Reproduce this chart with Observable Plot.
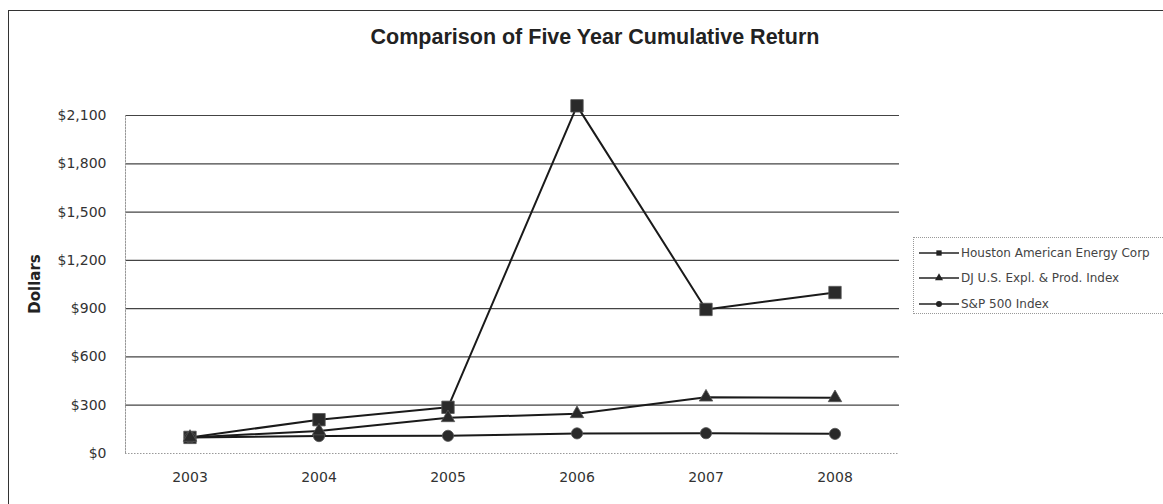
<!DOCTYPE html>
<html>
<head>
<meta charset="utf-8">
<script src="https://cdn.jsdelivr.net/npm/d3@7"></script>
<script src="https://cdn.jsdelivr.net/npm/@observablehq/plot@0.6"></script>
<style>
  body { margin: 0; background: #fff; font-family: "Liberation Sans", Arial, sans-serif; }
  #wrap { position: relative; width: 1163px; height: 504px; overflow: hidden; background: #fff; }
  #frame { position: absolute; left: 8px; top: 10px; width: 1170px; height: 510px; border: 1.5px solid #333; box-sizing: border-box; }
  #title { position: absolute; left: 0; width: 1190px; top: 25px; text-align: center; font-weight: bold; font-size: 21.5px; color: #222; }
  #ylabel { position: absolute; left: 35px; top: 284px; transform: translate(-50%, -50%) rotate(-90deg); font-family: "DejaVu Sans", sans-serif; font-weight: bold; font-size: 15px; color: #222; white-space: nowrap; }
  #legend { position: absolute; left: 913px; top: 237px; width: 260px; height: 77px; border: 1px dotted #999; box-sizing: border-box; }
  .item { position: absolute; left: 5px; height: 20px; display: flex; align-items: center; font-family: "DejaVu Sans", sans-serif; font-size: 12px; color: #444; white-space: nowrap; }
  .item svg { margin-right: 2px; }
  #chart { position: absolute; left: 0; top: 0; }
</style>
</head>
<body>
<div id="wrap">
  <div id="chart"></div>
  <div id="frame"></div>
  <div id="title">Comparison of Five Year Cumulative Return</div>
  <div id="ylabel">Dollars</div>
  <div id="legend"></div>
</div>
<script>
const years = ["2003", "2004", "2005", "2006", "2007", "2008"];
const seriesNames = ["Houston American Energy Corp", "DJ U.S. Expl. & Prod. Index", "S&P 500 Index"];
const houston = [100, 210, 287, 2160, 895, 1000];
const djExpProd = [100, 140, 222, 247, 350, 346];
const sp500 = [100, 108, 110, 125, 126, 122];
const yTicks = [0, 300, 600, 900, 1200, 1500, 1800, 2100];
const symbols = ["square", "triangle", "circle"];
const symbolR = [7, 5, 5.6];

const allValues = [houston, djExpProd, sp500];
const data = [];
seriesNames.forEach((s, i) => years.forEach((y, j) => data.push({series: s, year: y, value: allValues[i][j], sym: symbols[i], r: symbolR[i]})));

const fmt = d => "$" + d3.format(",")(d);

const chart = Plot.plot({
  width: 1163,
  height: 504,
  marginTop: 115,
  marginBottom: 51,
  marginLeft: 125,
  marginRight: 264,
  style: {fontFamily: "DejaVu Sans, sans-serif", fontSize: "14px", color: "#333", background: "transparent"},
  x: {type: "band", domain: years, padding: 0},
  y: {domain: [0, 2100]},
  marks: [
    Plot.ruleY(yTicks.filter(d => d > 0), {stroke: "#444", strokeWidth: 1.2}),
    Plot.ruleY([0], {stroke: "#999", strokeDasharray: "1.5,1.5"}),
    Plot.frame({anchor: "left", stroke: "#999", strokeDasharray: "1.5,1.5"}),
    Plot.axisY(yTicks, {tickFormat: fmt, tickSize: 0, tickPadding: 19, fontSize: 14, fill: "#333", label: null}),
    Plot.axisX({tickSize: 0, tickPadding: 19, fontSize: 14, fill: "#333", label: null}),
    Plot.line(data, {x: "year", y: "value", z: "series", stroke: "#1a1a1a", strokeWidth: 2}),
    Plot.dot(data, {x: "year", y: "value", symbol: "sym", r: "r", fill: "#2a2a2a", stroke: "#555", strokeWidth: 0.8})
  ],
  symbol: {type: "identity"},
  r: {type: "identity"}
});
document.getElementById("chart").appendChild(chart);

// legend
const legend = document.getElementById("legend");
const legendTops = [5, 30, 56];
seriesNames.forEach((name, i) => {
  const item = document.createElement("div");
  item.className = "item";
  item.style.top = legendTops[i] + "px";
  const svg = d3.create("svg").attr("width", 40).attr("height", 10);
  svg.append("line").attr("x1", 0).attr("x2", 40).attr("y1", 5).attr("y2", 5).attr("stroke", "#222").attr("stroke-width", 1.6);
  const sym = [d3.symbolSquare, d3.symbolTriangle, d3.symbolCircle][i];
  svg.append("path").attr("d", d3.symbol(sym, 28)()).attr("transform", "translate(20,5)").attr("fill", "#222");
  item.appendChild(svg.node());
  const span = document.createElement("span");
  span.textContent = name;
  item.appendChild(span);
  legend.appendChild(item);
});
</script>
</body>
</html>
